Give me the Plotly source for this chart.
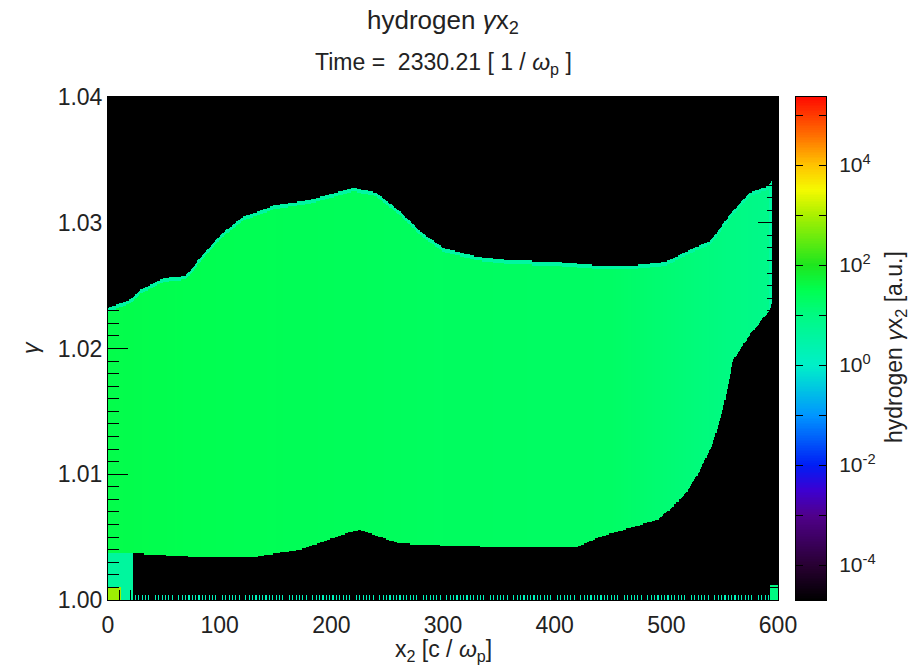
import numpy as np
import plotly.graph_objects as go

# Upper envelope of the hydrogen phase space (x2 in c/wp, gamma)
x_upper = [0, 20, 30, 50, 70, 80, 100, 120, 150, 180, 200, 220, 240, 260, 280,
           300, 330, 360, 400, 440, 470, 500, 520, 540, 560, 575, 590, 596]
g_upper = [1.0232, 1.0239, 1.0247, 1.0256, 1.0258, 1.0269, 1.0290, 1.0304,
           1.0314, 1.0318, 1.0323, 1.0328, 1.0324, 1.0310, 1.0293, 1.0280,
           1.0273, 1.0270, 1.0269, 1.0266, 1.0266, 1.0269, 1.0278, 1.0286,
           1.0310, 1.0324, 1.0329, 1.0334]

# Lower envelope (the region x2 < 22 reaches gamma = 1)
x_lower = [22, 82, 130, 172, 201, 217, 226, 244, 261, 279, 351, 420, 440, 470,
           492, 506, 519, 530, 542, 551, 560, 575, 593, 596]
g_lower = [1.0037, 1.0034, 1.0034, 1.0040, 1.0049, 1.0054, 1.0056, 1.0050,
           1.0045, 1.0044, 1.0042, 1.0042, 1.0050, 1.0058, 1.0064, 1.0074,
           1.0087, 1.0103, 1.0125, 1.0153, 1.0191, 1.0211, 1.0231, 1.0240]

x_edge_left = 22      # end of the column that reaches gamma = 1
x_edge_right = 595    # right edge of the particle distribution

# log10 density levels [a.u.]
core_x = [0, 150, 300, 450, 520, 590]
core_lv = [1.55, 1.45, 1.35, 1.3, 1.1, 0.9]
edge_lv = 0.55
left_strip_lv = 0.6
corner_lv = 2.9
band_lv = 0.2
right_corner_lv = 1.0

# colour range (log10)
z_lo, z_hi = -4.7, 5.36

cb_tickvals = [-4, -2, 0, 2, 4]
cb_ticktext = ["10<sup>-4</sup>", "10<sup>-2</sup>", "10<sup>0</sup>",
               "10<sup>2</sup>", "10<sup>4</sup>"]

# ---- build the gridded distribution --------------------------------------
nx, ny = 600, 400
xc = (np.arange(nx) + 0.5) * (600.0 / nx)
gc = 1.0 + (np.arange(ny) + 0.5) * (0.04 / ny)
X, G = np.meshgrid(xc, gc)

up = np.interp(xc, x_upper, g_upper)[None, :]
lo = np.interp(xc, x_lower, g_lower)[None, :]
lo = np.where(xc[None, :] < x_edge_left, 1.0, lo)
core = np.interp(xc, core_x, core_lv)[None, :] * np.ones_like(G)

z = np.full(G.shape, np.nan)
inside = (G <= up) & (G >= lo) & (X <= x_edge_right)
z[inside] = core[inside]
edge = inside & ((G > up - 0.0003) | (X > x_edge_right - 3))
z[edge] = edge_lv

strip = (X < x_edge_left) & (G < np.interp(x_edge_left, x_lower, g_lower))
z[strip] = left_strip_lv
z[(X < 12) & (G < 1.0010)] = corner_lv
z[(X > 593) & (G < 1.0012)] = right_corner_lv

band = (G < 1.0004) & (np.arange(nx)[None, :] % 3 == 0) & np.isnan(z)
z[band] = band_lv

# ---- colour scale ----------------------------------------------------------
stops = [
    (-4.7, "rgb(0,0,0)"),
    (-4.0, "rgb(40,0,50)"),
    (-3.0, "rgb(80,0,140)"),
    (-2.5, "rgb(60,0,210)"),
    (-2.0, "rgb(0,30,245)"),
    (-1.0, "rgb(0,150,255)"),
    (0.0, "rgb(0,240,200)"),
    (1.0, "rgb(0,250,130)"),
    (1.5, "rgb(0,255,80)"),
    (2.0, "rgb(30,230,30)"),
    (3.0, "rgb(170,240,0)"),
    (3.5, "rgb(245,250,0)"),
    (4.0, "rgb(255,195,0)"),
    (4.6, "rgb(255,110,0)"),
    (5.36, "rgb(255,10,0)"),
]
colorscale = [[(v - z_lo) / (z_hi - z_lo), c] for v, c in stops]

font_family = "Liberation Sans, Arial, sans-serif"
txt = "#222222"

fig = go.Figure()
fig.add_trace(go.Heatmap(
    x=xc, y=gc, z=z, colorscale=colorscale, zmin=z_lo, zmax=z_hi,
    showscale=False, hoverinfo="skip", xaxis="x", yaxis="y",
))

cb_y = np.linspace(z_lo, z_hi, 300)
fig.add_trace(go.Heatmap(
    x=[0.5], y=cb_y, z=cb_y[:, None], colorscale=colorscale,
    zmin=z_lo, zmax=z_hi, showscale=False, hoverinfo="skip",
    xaxis="x2", yaxis="y2",
))

axis_common = dict(showline=True, linecolor="black", linewidth=1,
                   showgrid=False, zeroline=False, ticks="inside",
                   tickcolor="black", mirror="ticks",
                   tickfont=dict(family=font_family, size=23, color=txt))

fig.update_layout(
    width=912, height=667,
    margin=dict(l=108, r=86, t=97, b=67),
    paper_bgcolor="white", plot_bgcolor="black",
    showlegend=False,
    xaxis=dict(domain=[0, 670 / 718], range=[0, 600], dtick=100,
               ticklen=20, tickwidth=1, ticklabelstandoff=4,
               minor=dict(dtick=10, ticklen=10, ticks="inside",
                          tickcolor="black"),
               **axis_common),
    yaxis=dict(domain=[0, 1], range=[1.0, 1.04], dtick=0.01,
               tickformat=".2f", ticklen=20, tickwidth=1,
               minor=dict(dtick=0.001, ticklen=11, ticks="inside",
                          tickcolor="black"),
               **axis_common),
    xaxis2=dict(domain=[688 / 718, 1.0], range=[0, 1], showticklabels=False,
                ticks="", showline=True, linecolor="black", mirror=True,
                showgrid=False, zeroline=False, anchor="y2"),
    yaxis2=dict(domain=[0, 1], range=[z_lo, z_hi], anchor="x2", side="right",
                tickvals=cb_tickvals, ticktext=cb_ticktext,
                ticks="inside", ticklen=7, tickcolor="black", mirror="ticks",
                minor=dict(tickvals=[-3, -1, 1, 3, 5], ticklen=7,
                           ticks="inside", tickcolor="black"),
                showline=True, linecolor="black", showgrid=False,
                zeroline=False, ticklabelstandoff=8,
                tickfont=dict(family=font_family, size=21, color=txt)),
)

def note(text, x, y, size, angle=0):
    fig.add_annotation(text=text, x=x, y=y, xref="paper", yref="paper",
                       xanchor="center", yanchor="middle", showarrow=False,
                       textangle=angle,
                       font=dict(family=font_family, size=size, color=txt))

note("hydrogen <i>\u03b3</i>x<sub>2</sub>", 0.4666, (600 - 22) / 503, 26)
note("Time =\u00a0\u00a02330.21 [ 1 / <i>\u03c9</i><sub>p</sub> ]", 0.4666,
     (600 - 64) / 503, 23)
note("x<sub>2</sub> [c / <i>\u03c9</i><sub>p</sub>]", 0.4666,
     (600 - 650) / 503, 23)
note("<i>\u03b3</i>", (30 - 108) / 718, (600 - 348) / 503, 23, angle=-90)
note("hydrogen <i>\u03b3</i>x<sub>2</sub> [a.u.]", (895 - 108) / 718,
     (600 - 347) / 503, 23, angle=-90)

fig.write_html("out.html")
